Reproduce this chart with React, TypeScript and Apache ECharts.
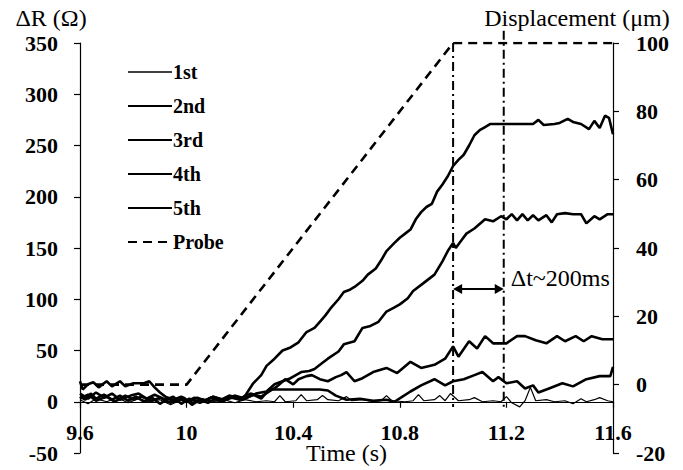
import React, { useEffect, useRef } from "react";
import * as echarts from "echarts";

// ---------- data ----------
const xTicks = { min: 9.6, max: 11.6, interval: 0.4 };
const leftTicks = { min: -50, max: 350, interval: 50 };
const rightTicks = { min: -20, max: 100, interval: 20 };

const seriesNames = ["1st", "2nd", "3rd", "4th", "5th", "Probe"];

const run1: number[][] = [
  [9.6, 2], [9.63, -2], [9.66, 3], [9.7, 0], [9.74, 4], [9.78, -1], [9.82, 3], [9.86, 0],
  [9.9, 2], [9.94, -3], [9.98, 2], [10.02, -1], [10.06, 3], [10.1, 0], [10.14, 2], [10.18, -1],
  [10.22, 2], [10.26, 0], [10.3, 1], [10.33, 0], [10.35, 6], [10.37, 0], [10.41, 1], [10.43, 7],
  [10.45, 1], [10.49, 2], [10.51, 6], [10.53, 2], [10.57, 1], [10.6, 5], [10.62, 1], [10.66, 2],
  [10.7, 0], [10.73, 1], [10.75, 6], [10.77, 1], [10.82, 0], [10.85, 1], [10.87, 7], [10.89, 1],
  [10.93, 2], [10.95, 6], [10.97, 1], [10.99, 8], [11.02, 1], [11.06, 2], [11.08, 4], [11.11, 0],
  [11.15, 1], [11.18, 0], [11.2, 5], [11.22, -1], [11.25, -5], [11.27, 1], [11.29, 14], [11.31, 1],
  [11.35, 2], [11.38, 0], [11.42, 1], [11.45, -2], [11.48, 3], [11.5, 0], [11.53, 2], [11.55, 4],
  [11.58, 1], [11.6, 0],
];

const run2: number[][] = [
  [9.6, 8], [9.63, 3], [9.66, 9], [9.69, 4], [9.72, 8], [9.75, 2], [9.79, 6], [9.82, 8],
  [9.85, 3], [9.88, 7], [9.92, 2], [9.95, 5], [9.98, -2], [10.01, 3], [10.05, -1], [10.09, 4],
  [10.13, 0], [10.17, 5], [10.21, 2], [10.25, 7], [10.28, 3], [10.31, 12], [10.35, 12], [10.4, 12],
  [10.45, 12], [10.5, 12], [10.53, 11], [10.56, 6], [10.6, 2], [10.65, 3], [10.7, 1], [10.75, 2],
  [10.78, 0], [10.81, 5], [10.84, 10], [10.88, 16], [10.93, 22], [10.97, 16], [11.0, 20], [11.04, 22],
  [11.08, 26], [11.11, 29], [11.15, 20], [11.17, 24], [11.2, 18], [11.24, 20], [11.27, 13], [11.3, 16],
  [11.32, 9], [11.36, 13], [11.41, 18], [11.45, 15], [11.5, 22], [11.55, 25], [11.59, 25], [11.6, 34],
];

const run3: number[][] = [
  [9.6, 20], [9.61, 12], [9.63, 17], [9.65, 19], [9.67, 14], [9.7, 20], [9.72, 15], [9.75, 20],
  [9.77, 15], [9.8, 18], [9.84, 18], [9.86, 20], [9.88, 14], [9.9, 9], [9.92, 5], [9.95, 2],
  [9.98, 5], [10.01, 0], [10.04, 4], [10.07, 1], [10.1, 5], [10.13, 2], [10.16, 6], [10.2, 3],
  [10.24, 8], [10.28, 5], [10.31, 10], [10.34, 15], [10.37, 22], [10.4, 17], [10.42, 22], [10.45, 25],
  [10.47, 26], [10.5, 22], [10.53, 20], [10.56, 24], [10.58, 26], [10.6, 29], [10.63, 20], [10.66, 23],
  [10.7, 29], [10.75, 33], [10.79, 28], [10.84, 39], [10.88, 33], [10.93, 36], [10.97, 42], [11.0, 54],
  [11.02, 44], [11.06, 59], [11.09, 52], [11.12, 64], [11.15, 57], [11.2, 57], [11.24, 64], [11.27, 64],
  [11.31, 60], [11.35, 57], [11.39, 64], [11.42, 59], [11.46, 64], [11.49, 59], [11.52, 64], [11.56, 61],
  [11.6, 61],
];

const run4: number[][] = [
  [9.6, 3], [9.63, 7], [9.66, 1], [9.7, 5], [9.73, 0], [9.77, 6], [9.8, 2], [9.83, 5],
  [9.87, 1], [9.9, 4], [9.94, -1], [9.97, 3], [10.0, 0], [10.03, 4], [10.07, 1], [10.1, 5],
  [10.14, 2], [10.18, 6], [10.22, 3], [10.26, 8], [10.3, 10], [10.33, 17], [10.36, 20], [10.39, 23],
  [10.43, 29], [10.46, 30], [10.48, 32], [10.51, 38], [10.53, 42], [10.57, 49], [10.59, 56], [10.63, 59],
  [10.66, 72], [10.69, 74], [10.72, 78], [10.75, 88], [10.78, 92], [10.8, 95], [10.83, 101], [10.85, 108],
  [10.89, 116], [10.93, 124], [10.96, 137], [10.98, 147], [11.0, 155], [11.01, 150], [11.03, 157], [11.05, 164],
  [11.08, 169], [11.12, 178], [11.15, 176], [11.18, 181], [11.2, 178], [11.22, 183], [11.24, 177], [11.26, 183],
  [11.28, 177], [11.3, 182], [11.32, 177], [11.35, 182], [11.37, 175], [11.39, 183], [11.42, 184], [11.45, 183],
  [11.48, 183], [11.5, 174], [11.53, 181], [11.55, 178], [11.58, 183], [11.6, 183],
];

const run5: number[][] = [
  [9.6, 5], [9.62, 2], [9.64, 8], [9.66, 3], [9.69, 7], [9.72, 2], [9.75, 6], [9.78, 1],
  [9.81, 5], [9.84, 0], [9.87, 4], [9.9, -2], [9.93, 3], [9.96, 0], [9.99, 4], [10.02, -3],
  [10.05, 2], [10.08, -1], [10.11, 3], [10.14, 1], [10.17, 4], [10.2, 2], [10.22, 6], [10.25, 18],
  [10.28, 26], [10.3, 35], [10.33, 42], [10.36, 50], [10.39, 53], [10.42, 58], [10.45, 68], [10.48, 72],
  [10.5, 78], [10.52, 84], [10.54, 91], [10.57, 100], [10.59, 107], [10.61, 109], [10.63, 112], [10.66, 118],
  [10.68, 124], [10.71, 130], [10.73, 138], [10.75, 147], [10.78, 155], [10.8, 160], [10.82, 164], [10.84, 168],
  [10.86, 178], [10.88, 185], [10.9, 190], [10.92, 193], [10.94, 205], [10.96, 212], [10.98, 220], [11.0, 230],
  [11.02, 236], [11.04, 241], [11.06, 250], [11.08, 260], [11.1, 265], [11.12, 268], [11.14, 271], [11.2, 271],
  [11.28, 271], [11.3, 271], [11.32, 275], [11.34, 270], [11.38, 271], [11.4, 272], [11.43, 276], [11.45, 273],
  [11.48, 271], [11.51, 266], [11.53, 274], [11.55, 267], [11.57, 279], [11.585, 277], [11.6, 261],
];

const probe: number[][] = [[9.6, 0], [10.0, 0], [11.0, 100], [11.6, 100]];

// vertical dash-dot markers: [time, top ΔR, bottom ΔR]
const markerLines: number[][] = [[11.0, 350, -5], [11.19, 362, -7]];
// double arrow: [start time, end time, ΔR level]
const deltaArrow: number[][] = [[11.0, 11.19, 110]];
const deltaLabel = "Δt~200ms";

// ---------- styles ----------
const INK = "#000";
const SERIF = "'Liberation Serif', 'Times New Roman', serif";
const boldLabel = { fontFamily: SERIF, fontWeight: "bold" as const, fontSize: 22, color: INK };
const nameStyle = { fontFamily: SERIF, fontSize: 24, color: INK };

const GRID_TOP = 43;
const GRID_BOTTOM = 17;
const CHART_H = 470;

export default function App() {
  const ref = useRef<HTMLDivElement>(null);

  useEffect(() => {
    if (!ref.current) return;
    const chart = echarts.init(ref.current, null, { renderer: "svg" });

    // the time axis sits at ΔR = 0: shift it up from the grid bottom by that amount
    const plotH = CHART_H - GRID_TOP - GRID_BOTTOM;
    const zeroShift = (plotH * (0 - leftTicks.min)) / (leftTicks.max - leftTicks.min);

    const solid = (name: string, data: number[][], width: number) => ({
      name,
      type: "line",
      data,
      yAxisIndex: 0,
      symbol: "none",
      showSymbol: false,
      lineStyle: { color: INK, width },
      itemStyle: { color: INK },
      z: 3,
    });

    chart.setOption({
      animation: false,
      backgroundColor: "#fff",
      grid: {
        left: 80,
        right: 70,
        top: GRID_TOP,
        bottom: GRID_BOTTOM,
        containLabel: false,
        outerBoundsMode: "none",
      },
      legend: {
        data: seriesNames.map((n) => (n === "1st" ? { name: n, lineStyle: { width: 1.3 } } : n)),
        orient: "vertical",
        left: 122,
        top: 57,
        itemWidth: 44,
        itemHeight: 14,
        itemGap: 14,
        itemStyle: { opacity: 0 },
        textStyle: { ...boldLabel, fontSize: 20, lineHeight: 20, padding: [0, 0, 0, -4] },
      },
      xAxis: {
        type: "value",
        min: xTicks.min,
        max: xTicks.max,
        interval: xTicks.interval,
        position: "bottom",
        offset: -zeroShift,
        name: "Time (s)",
        nameLocation: "middle",
        nameGap: 39,
        nameMoveOverlap: false,
        nameTextStyle: nameStyle,
        axisLine: { show: true, onZero: false, lineStyle: { color: INK, width: 1.2 } },
        axisTick: { show: true, inside: false, length: 6, lineStyle: { color: INK, width: 1.2 } },
        axisLabel: { ...boldLabel, margin: 20 },
        splitLine: { show: false },
      },
      yAxis: [
        {
          type: "value",
          position: "left",
          min: leftTicks.min,
          max: leftTicks.max,
          interval: leftTicks.interval,
          name: "ΔR (Ω)",
          nameLocation: "end",
          nameGap: 13,
          nameMoveOverlap: false,
          nameTextStyle: { ...nameStyle, align: "center", padding: [0, 58, 0, 0] },
          axisLine: { show: true, onZero: false, lineStyle: { color: INK, width: 1.2 } },
          axisTick: { show: true, inside: false, length: 6, lineStyle: { color: INK, width: 1.2 } },
          axisLabel: { ...boldLabel, margin: 22 },
          splitLine: { show: false },
        },
        {
          type: "value",
          position: "right",
          min: rightTicks.min,
          max: rightTicks.max,
          interval: rightTicks.interval,
          name: "Displacement (μm)",
          nameLocation: "end",
          nameGap: 13,
          nameMoveOverlap: false,
          nameTextStyle: { ...nameStyle, align: "center", padding: [0, 72, 0, 0] },
          axisLine: { show: true, onZero: false, lineStyle: { color: INK, width: 1.2 } },
          axisTick: { show: true, inside: false, length: 6, lineStyle: { color: INK, width: 1.2 } },
          axisLabel: { ...boldLabel, margin: 23 },
          splitLine: { show: false },
        },
      ],
      series: [
        solid("1st", run1, 1.2),
        solid("2nd", run2, 2.6),
        solid("3rd", run3, 2.6),
        solid("4th", run4, 2.6),
        solid("5th", run5, 2.6),
        {
          name: "Probe",
          type: "line",
          data: probe,
          yAxisIndex: 1,
          symbol: "none",
          showSymbol: false,
          lineStyle: { color: INK, width: 2.6, type: [9, 6] },
          itemStyle: { color: INK },
          z: 3,
        },
        {
          name: "markers",
          type: "custom",
          yAxisIndex: 0,
          clip: false,
          silent: true,
          data: markerLines,
          encode: { x: 0, y: [1, 2] },
          renderItem: (params: any, api: any) => {
            const t = api.value(0);
            const p1 = api.coord([t, api.value(1)]);
            const p2 = api.coord([t, api.value(2)]);
            return {
              type: "line",
              shape: { x1: p1[0], y1: p1[1], x2: p2[0], y2: p2[1] },
              style: { stroke: INK, lineWidth: 2, lineDash: [9, 4, 2, 4], fill: null },
            };
          },
          z: 2,
        },
        {
          name: "delta",
          type: "custom",
          yAxisIndex: 0,
          clip: false,
          silent: true,
          data: deltaArrow,
          encode: { x: [0, 1], y: 2 },
          renderItem: (params: any, api: any) => {
            const a = api.coord([api.value(0), api.value(2)]);
            const b = api.coord([api.value(1), api.value(2)]);
            const h = 9;
            const w = 5;
            return {
              type: "group",
              children: [
                {
                  type: "line",
                  shape: { x1: a[0] + 2, y1: a[1], x2: b[0] - 2, y2: b[1] },
                  style: { stroke: INK, lineWidth: 2.2 },
                },
                {
                  type: "polygon",
                  shape: { points: [[a[0], a[1]], [a[0] + h, a[1] - w], [a[0] + h, a[1] + w]] },
                  style: { fill: INK },
                },
                {
                  type: "polygon",
                  shape: { points: [[b[0], b[1]], [b[0] - h, b[1] - w], [b[0] - h, b[1] + w]] },
                  style: { fill: INK },
                },
                {
                  type: "text",
                  x: b[0] + 7,
                  y: b[1] - 11,
                  style: {
                    text: deltaLabel,
                    fontFamily: SERIF,
                    fontSize: 24,
                    fill: INK,
                    align: "left",
                    verticalAlign: "middle",
                  },
                },
              ],
            };
          },
          z: 4,
        },
      ],
    });

    return () => chart.dispose();
  }, []);

  return (
    <div
      ref={ref}
      style={{ position: "fixed", left: 0, top: 0, width: 683, height: CHART_H, background: "#fff" }}
    />
  );
}
